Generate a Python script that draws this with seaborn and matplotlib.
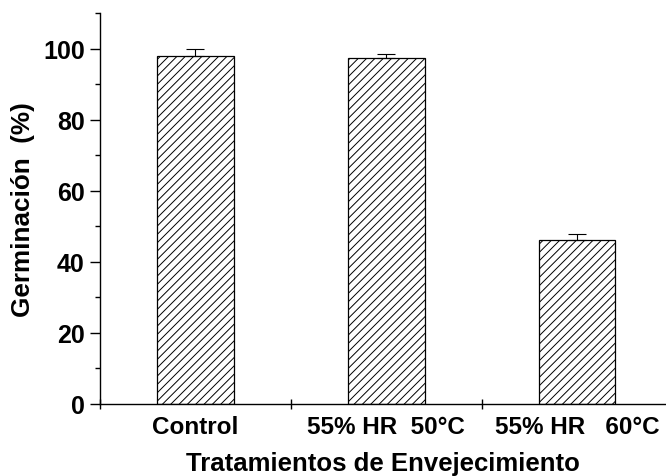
import matplotlib
matplotlib.use("Agg")
import matplotlib.pyplot as plt
import seaborn as sns
import numpy as np
import pandas as pd
from matplotlib.ticker import MultipleLocator

categories = ["Control", "55% HR  50°C", "55% HR   60°C"]
germinacion = [98.0, 97.2, 46.0]
error_sup = [2.0, 1.3, 1.8]
y_ticks = [0, 20, 40, 60, 80, 100]

sns.set_theme(style="ticks")
plt.rcParams['font.family'] = ['Liberation Sans', 'DejaVu Sans']
plt.rcParams['hatch.linewidth'] = 0.7
plt.rcParams['hatch.color'] = 'black'
plt.rcParams['text.color'] = 'black'
plt.rcParams['axes.labelcolor'] = 'black'
plt.rcParams['xtick.color'] = 'black'
plt.rcParams['ytick.color'] = 'black'

df = pd.DataFrame({"Tratamiento": categories, "Germinacion": germinacion})

fig = plt.figure(figsize=(6.66, 4.77), dpi=100)
ax = fig.add_axes([100/666, 1 - 405/477, 566/666, (405 - 14)/477])

sns.barplot(data=df, x="Tratamiento", y="Germinacion", ax=ax, width=0.4,
            color="white", edgecolor="black", linewidth=0.9,
            errorbar=None)
for p in ax.patches:
    p.set_facecolor("white")
    p.set_edgecolor("black")
    p.set_hatch("////")

xs = np.arange(len(categories))
ax.errorbar(xs, germinacion, yerr=[np.zeros(len(error_sup)), error_sup],
            fmt="none", ecolor="black", elinewidth=0.8, capsize=6.5, capthick=0.8)

ax.set_xlim(-0.5, 2.465)
ax.set_ylim(0, 110)
ax.set_yticks(y_ticks)
ax.yaxis.set_minor_locator(MultipleLocator(10))
ax.set_xticks(xs)
ax.set_xticklabels(categories, fontsize=17.5, fontweight="bold")
ax.set_xticks([-0.5, 0.5, 1.5], minor=True)
ax.tick_params(axis="x", which="major", length=0, pad=8)
ax.tick_params(axis="x", which="minor", direction="inout", length=7, width=1, color="black")
ax.tick_params(axis="y", which="major", direction="out", length=7, width=1, color="black",
               labelsize=18, pad=4)
ax.tick_params(axis="y", which="minor", direction="out", length=3.6, width=1, color="black")
for lab in ax.get_yticklabels():
    lab.set_fontweight("bold")

ax.spines["top"].set_visible(False)
ax.spines["right"].set_visible(False)
for s in ["left", "bottom"]:
    ax.spines[s].set_linewidth(1.0)
    ax.spines[s].set_color("black")

ax.set_xlabel("Tratamientos de Envejecimiento", fontsize=18.5, fontweight="bold", labelpad=9)
ax.set_ylabel("Germinación  (%)", fontsize=18.8, fontweight="bold", labelpad=6)

fig.savefig("out.png", dpi=100)
